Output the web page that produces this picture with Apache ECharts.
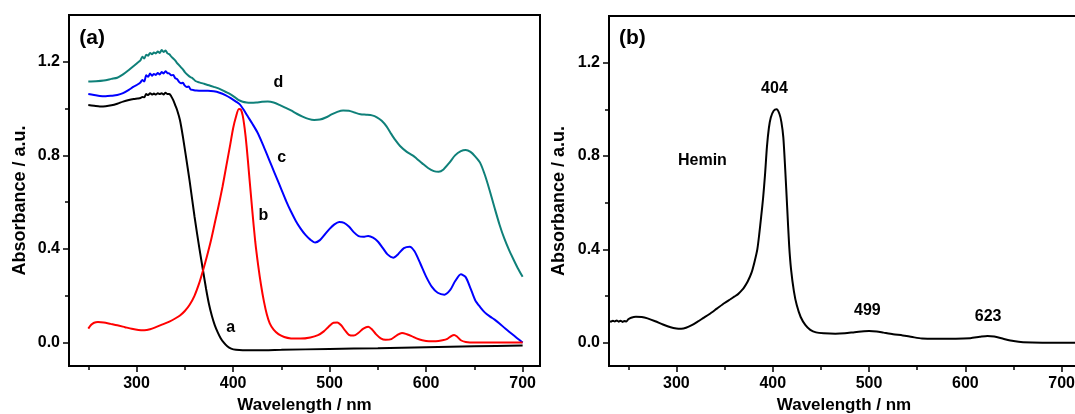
<!DOCTYPE html>
<html>
<head>
<meta charset="utf-8">
<script src="https://cdn.jsdelivr.net/npm/echarts@6/dist/echarts.min.js"></script>
<style>
  html, body { margin: 0; padding: 0; background: #fff; }
  #chart { width: 1075px; height: 414px; }
</style>
</head>
<body>
<div id="chart"></div>
<script>
// ---- Panel (a): four absorption spectra ----
const wlA = [250,256,262,268,274,280,286,292,297,301,304,306,308,310,312,314,316,318,320,322,324,326,328,330,332,334,336,338,340,342,345,348,351,355,360,365,369,372,375,378,381,384,387,390,394,398,403,410,425,450,500,550,600,650,700];
const absA = [1.015,1.012,1.009,1.010,1.014,1.021,1.030,1.037,1.041,1.043,1.045,1.050,1.048,1.062,1.058,1.066,1.060,1.064,1.060,1.066,1.062,1.066,1.060,1.068,1.062,1.062,1.052,1.036,1.015,0.994,0.950,0.880,0.800,0.690,0.540,0.405,0.305,0.230,0.165,0.115,0.075,0.045,0.020,0.002,-0.016,-0.026,-0.031,-0.033,-0.033,-0.031,-0.027,-0.024,-0.020,-0.016,-0.012];

const wlB = [250,253,256,260,266,273,280,288,295,302,308,314,320,327,334,340,345,350,355,360,365,369,373,377,381,385,389,393,397,400,403,406,408,410,412,414,417,420,423,426,429,432,435,438,442,447,453,460,470,480,488,494,499,504,508,512,516,520,525,530,535,540,544,548,553,558,564,570,575,580,585,590,596,603,610,617,622,626,629,632,636,641,650,700];
const absB = [0.060,0.076,0.085,0.088,0.086,0.080,0.074,0.066,0.059,0.054,0.053,0.057,0.066,0.078,0.090,0.103,0.116,0.135,0.162,0.200,0.255,0.310,0.370,0.435,0.510,0.585,0.665,0.755,0.845,0.915,0.965,0.998,0.996,0.970,0.915,0.840,0.700,0.560,0.430,0.330,0.245,0.175,0.120,0.082,0.055,0.036,0.024,0.018,0.017,0.022,0.032,0.048,0.068,0.085,0.086,0.074,0.052,0.033,0.030,0.042,0.060,0.068,0.056,0.036,0.018,0.012,0.015,0.032,0.041,0.036,0.028,0.018,0.010,0.006,0.006,0.010,0.016,0.028,0.033,0.026,0.010,0.003,0.000,0.000];

const wlC = [250,256,262,268,274,280,286,292,297,301,304,306,308,310,312,314,316,318,320,322,324,326,328,330,332,334,336,338,340,342,344,346,348,350,352,354,356,358,362,368,374,380,386,392,398,403,407,411,415,420,425,430,435,440,445,450,455,460,465,470,475,480,485,490,495,500,505,510,515,520,525,530,535,540,545,550,555,560,566,571,577,583,588,594,600,606,612,619,625,630,636,641,646,651,656,661,666,671,676,682,688,694,700];
const absC = [1.062,1.058,1.054,1.053,1.055,1.058,1.066,1.080,1.094,1.103,1.112,1.122,1.116,1.142,1.136,1.150,1.140,1.148,1.144,1.152,1.146,1.156,1.150,1.160,1.152,1.150,1.142,1.144,1.130,1.126,1.114,1.108,1.110,1.098,1.092,1.094,1.082,1.080,1.077,1.076,1.076,1.074,1.068,1.058,1.044,1.030,1.018,0.995,0.968,0.935,0.900,0.855,0.805,0.755,0.705,0.655,0.605,0.560,0.520,0.487,0.460,0.440,0.428,0.438,0.462,0.486,0.505,0.515,0.512,0.496,0.472,0.455,0.452,0.456,0.449,0.432,0.405,0.377,0.363,0.378,0.404,0.410,0.390,0.338,0.282,0.238,0.213,0.205,0.225,0.262,0.292,0.280,0.232,0.180,0.152,0.128,0.112,0.098,0.082,0.060,0.040,0.020,0.000];

const wlD = [250,258,266,274,280,286,292,297,301,304,306,308,310,312,314,316,318,320,322,324,326,328,330,332,334,336,338,340,342,344,346,348,350,353,356,358,361,365,370,375,380,386,392,397,402,406,410,414,418,424,430,436,442,448,454,460,466,472,478,484,490,496,502,508,514,520,526,532,538,544,549,554,559,564,568,573,580,586,590,596,602,608,613,618,624,630,636,641,646,651,656,661,666,671,676,681,686,690,695,700];
const absD = [1.116,1.117,1.120,1.127,1.132,1.146,1.165,1.182,1.196,1.206,1.222,1.214,1.230,1.226,1.238,1.232,1.240,1.236,1.244,1.238,1.250,1.242,1.248,1.236,1.232,1.222,1.214,1.206,1.194,1.186,1.176,1.168,1.156,1.144,1.134,1.130,1.118,1.112,1.106,1.100,1.093,1.084,1.072,1.062,1.048,1.036,1.029,1.026,1.025,1.026,1.029,1.030,1.026,1.016,1.004,0.992,0.978,0.966,0.956,0.951,0.953,0.962,0.975,0.986,0.992,0.991,0.983,0.976,0.974,0.971,0.963,0.948,0.924,0.891,0.866,0.840,0.815,0.800,0.787,0.766,0.746,0.733,0.730,0.740,0.768,0.800,0.818,0.823,0.815,0.795,0.768,0.715,0.648,0.575,0.505,0.445,0.395,0.360,0.318,0.281];

// ---- Panel (b): hemin spectrum ----
const wlHemin = [230,232,234,236,238,240,242,244,246,248,250,253,258,264,270,278,286,294,300,305,310,316,322,328,334,342,350,356,360,364,368,370,374,378,381,384,386,388,390,392,394,396,398,401,404,407,409,411,413,415,417,419,422,425,429,434,439,445,453,465,475,485,492,500,508,515,525,535,545,555,570,590,605,615,623,630,640,650,660,680,700,718];
const absHemin = [0.094,0.090,0.094,0.091,0.095,0.090,0.094,0.089,0.093,0.091,0.100,0.107,0.111,0.110,0.104,0.092,0.078,0.066,0.061,0.060,0.064,0.075,0.090,0.106,0.122,0.146,0.170,0.186,0.197,0.208,0.225,0.235,0.262,0.300,0.345,0.400,0.465,0.540,0.620,0.720,0.840,0.920,0.965,0.994,1.000,0.980,0.945,0.880,0.740,0.580,0.420,0.315,0.220,0.160,0.110,0.075,0.055,0.044,0.040,0.038,0.040,0.045,0.048,0.050,0.048,0.043,0.036,0.031,0.024,0.018,0.017,0.017,0.019,0.025,0.029,0.026,0.016,0.007,0.002,0.000,0.000,0.000];

// ---- Axis ticks ----
const majorWl = [300, 400, 500, 600, 700];
const minorWl = [250, 350, 450, 550, 650];
const majorAbs = [0.0, 0.4, 0.8, 1.2];
const minorAbs = [0.2, 0.6, 1.0];

// ---- Text annotations ----
const notesA = ['(a)', 'a', 'b', 'c', 'd'];
const notesAWl = [254, 397.6, 431.4, 450.5, 447];
const notesAAbs = [1.301, 0.066, 0.541, 0.789, 1.11];
const notesB = ['(b)', '404', 'Hemin', '499', '623'];
const notesBWl = [254.3, 401.8, 327, 498.3, 623.6];
const notesBAbs = [1.306, 1.087, 0.779, 0.136, 0.11];

const FONT = 'Liberation Sans, Arial, Helvetica, sans-serif';
const BLACK = '#000';

function pairs(xs, ys) { return xs.map((x, i) => [x, ys[i]]); }

function xAxes(gridIndex) {
  return [{
    gridIndex, type: 'value', min: 230, max: 718, position: 'bottom',
    name: 'Wavelength / nm', nameLocation: 'middle', nameGap: 31,
    nameTextStyle: { fontFamily: FONT, fontWeight: 'bold', fontSize: 17, color: BLACK },
    axisLine: { show: true, onZero: false, lineStyle: { color: BLACK, width: 2 } },
    axisTick: { show: true, customValues: majorWl, length: 6, lineStyle: { color: BLACK, width: 1.5 } },
    axisLabel: { show: true, customValues: majorWl, margin: 10, fontFamily: FONT, fontWeight: 'bold', fontSize: 16, color: BLACK },
    splitLine: { show: false }
  }, {
    gridIndex, type: 'value', min: 230, max: 718, position: 'bottom',
    axisLine: { show: false, onZero: false },
    axisTick: { show: true, customValues: minorWl, length: 4, lineStyle: { color: BLACK, width: 1.5 } },
    axisLabel: { show: false },
    splitLine: { show: false }
  }];
}

function yAxes(gridIndex, gap) {
  return [{
    gridIndex, type: 'value', min: -0.1, max: 1.4, position: 'left',
    name: 'Absorbance / a.u.', nameLocation: 'middle', nameGap: gap,
    nameTextStyle: { fontFamily: FONT, fontWeight: 'bold', fontSize: 18, color: BLACK, padding: [0, 20, 0, 0] },
    axisLine: { show: true, onZero: false, lineStyle: { color: BLACK, width: 2 } },
    axisTick: { show: true, customValues: majorAbs, length: 6, lineStyle: { color: BLACK, width: 1.5 } },
    axisLabel: { show: true, customValues: majorAbs, margin: 9, fontFamily: FONT, fontWeight: 'bold', fontSize: 16, color: BLACK,
      formatter: v => v.toFixed(1) },
    splitLine: { show: false }
  }, {
    gridIndex, type: 'value', min: -0.1, max: 1.4, position: 'left',
    axisLine: { show: false, onZero: false },
    axisTick: { show: true, customValues: minorAbs, length: 4, lineStyle: { color: BLACK, width: 1.5 } },
    axisLabel: { show: false },
    splitLine: { show: false }
  }];
}

function spectrum(data, color, axisIndex) {
  return {
    type: 'line', data, xAxisIndex: axisIndex, yAxisIndex: axisIndex,
    showSymbol: false, smooth: 0.25, clip: true,
    lineStyle: { color, width: 2 }, silent: true
  };
}

function notes(texts, xs, ys, axisIndex) {
  return {
    type: 'scatter', xAxisIndex: axisIndex, yAxisIndex: axisIndex, silent: true,
    symbolSize: 0, itemStyle: { color: BLACK, opacity: 1 },
    data: texts.map((t, i) => ({ value: [xs[i], ys[i]], name: t,
      label: { fontSize: t.startsWith('(') ? 21 : 16 } })),
    label: { show: true, position: 'inside', formatter: p => p.name,
      fontFamily: FONT, fontWeight: 'bold', color: BLACK, textBorderWidth: 0 }
  };
}

const chart = echarts.init(document.getElementById('chart'), null, { renderer: 'canvas' });
chart.setOption({
  animation: false,
  backgroundColor: '#fff',
  grid: [
    { left: 69, top: 15, width: 471, height: 351, show: true, borderColor: BLACK, borderWidth: 2,
      containLabel: false, outerBoundsMode: 'none' },
    { left: 609, top: 16, width: 470, height: 350, show: true, borderColor: BLACK, borderWidth: 2,
      containLabel: false, outerBoundsMode: 'none' }
  ],
  xAxis: [...xAxes(0), ...xAxes(1)],
  yAxis: [...yAxes(0, 40), ...yAxes(1, 41)],
  series: [
    spectrum(pairs(wlD, absD), '#0f8079', 0),
    spectrum(pairs(wlC, absC), '#0000ff', 0),
    spectrum(pairs(wlA, absA), '#000000', 0),
    spectrum(pairs(wlB, absB), '#ff0000', 0),
    notes(notesA, notesAWl, notesAAbs, 0),
    spectrum(pairs(wlHemin, absHemin), '#000000', 2),
    notes(notesB, notesBWl, notesBAbs, 2)
  ]
});
</script>
</body>
</html>
